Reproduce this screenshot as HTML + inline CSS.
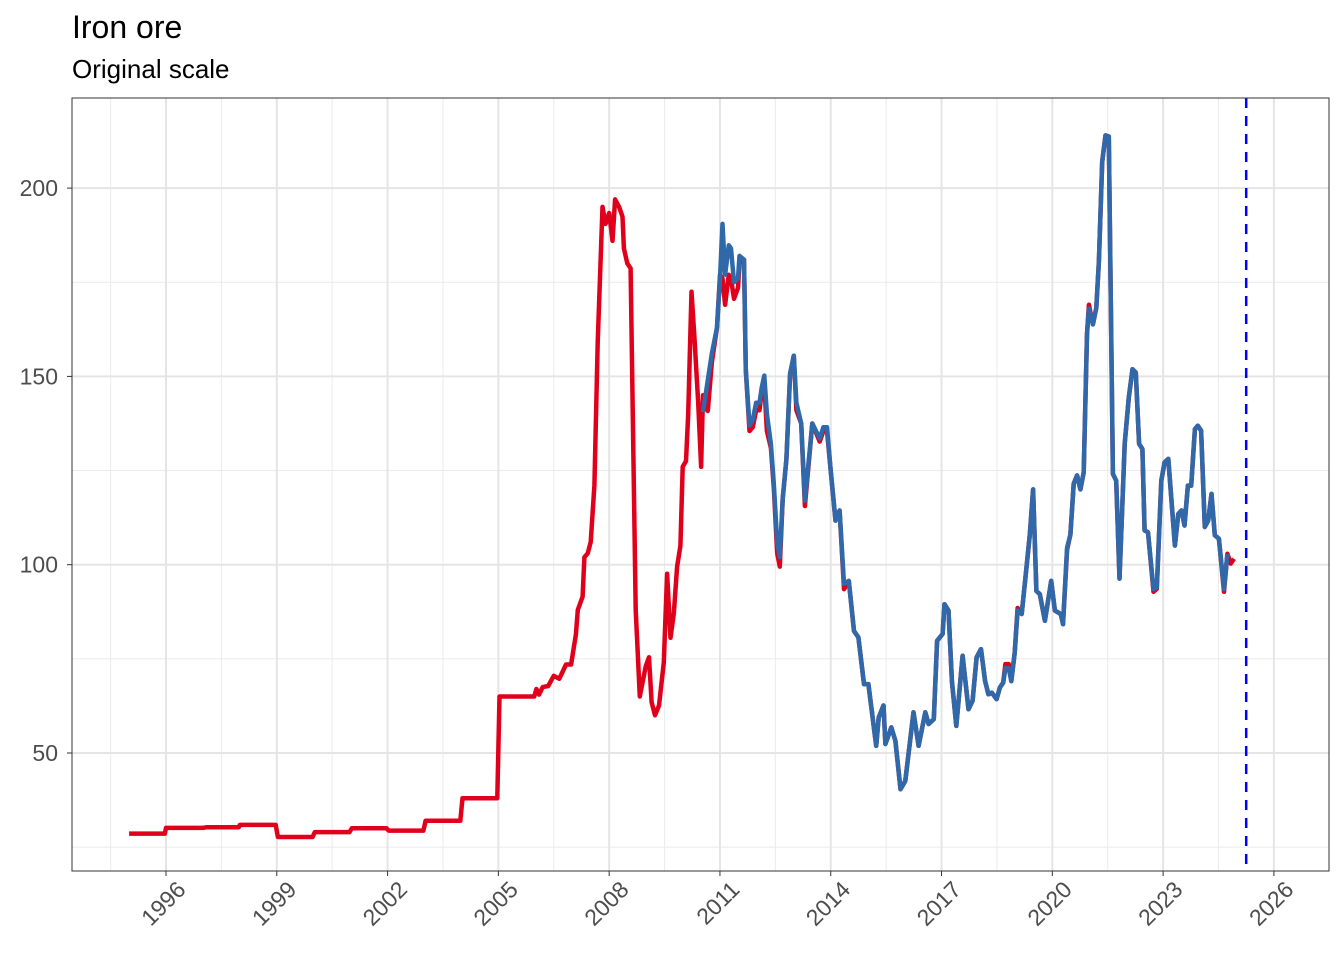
<!DOCTYPE html>
<html><head><meta charset="utf-8"><style>
body{margin:0;background:#fff;font-family:"Liberation Sans",Arial,sans-serif}
</style></head><body>
<svg id="chart" width="1344" height="960" xmlns="http://www.w3.org/2000/svg">
<rect width="1344" height="960" fill="#fff"/>
<text x="72" y="38" font-size="32" fill="#000">Iron ore</text>
<text x="72" y="78" font-size="26" fill="#000">Original scale</text>
<g id="grid"></g><g id="series"></g><g id="axes"></g>
</svg>
<script>
const redYears=[1995.0,1995.97,1996.0,1997.0,1997.1,1997.97,1998.0,1998.97,1999.03,1999.97,2000.03,2000.97,2001.03,2001.97,2002.03,2002.97,2003.03,2003.97,2004.03,2004.97,2005.03,2005.97,2006.03,2006.1,2006.2,2006.35,2006.5,2006.65,2006.83,2006.97,2007.1,2007.15,2007.28,2007.33,2007.42,2007.5,2007.6,2007.69,2007.82,2007.9,2008.0,2008.09,2008.16,2008.27,2008.36,2008.4,2008.49,2008.58,2008.72,2008.83,2008.99,2009.08,2009.15,2009.24,2009.35,2009.48,2009.57,2009.66,2009.75,2009.84,2009.93,2009.99,2010.08,2010.14,2010.23,2010.31,2010.41,2010.49,2010.54,2010.67,2010.78,2010.92,2011.0,2011.07,2011.14,2011.24,2011.3,2011.38,2011.49,2011.53,2011.65,2011.7,2011.8,2011.89,2011.98,2012.07,2012.13,2012.2,2012.27,2012.38,2012.46,2012.55,2012.62,2012.7,2012.8,2012.9,2013.0,2013.07,2013.2,2013.3,2013.5,2013.7,2013.8,2013.9,2014.0,2014.13,2014.24,2014.36,2014.49,2014.63,2014.75,2014.9,2015.02,2015.23,2015.3,2015.43,2015.48,2015.64,2015.75,2015.89,2016.02,2016.24,2016.38,2016.56,2016.65,2016.79,2016.88,2017.03,2017.08,2017.19,2017.28,2017.4,2017.57,2017.73,2017.84,2017.95,2018.07,2018.18,2018.27,2018.36,2018.49,2018.58,2018.67,2018.73,2018.82,2018.89,2018.98,2019.06,2019.17,2019.3,2019.39,2019.48,2019.57,2019.66,2019.8,2019.97,2020.07,2020.23,2020.29,2020.4,2020.49,2020.58,2020.67,2020.76,2020.85,2020.94,2020.99,2021.1,2021.19,2021.26,2021.35,2021.44,2021.53,2021.64,2021.73,2021.82,2021.96,2022.07,2022.17,2022.26,2022.35,2022.44,2022.5,2022.59,2022.74,2022.83,2022.95,2023.04,2023.14,2023.32,2023.41,2023.5,2023.58,2023.67,2023.76,2023.86,2023.94,2024.03,2024.13,2024.22,2024.31,2024.4,2024.51,2024.65,2024.74,2024.83,2024.92];
const redValues=[28.6,28.6,30.1,30.1,30.3,30.3,30.9,30.9,27.7,27.7,29,29,30,30,29.4,29.4,32,32,38,38,65,65,67,65.5,67.5,67.8,70.5,69.7,73.5,73.5,81.5,88,91.5,102,103,106,121,159,195,190.5,193.4,186,197,195,192.4,184,180,178.7,88,65,73,75.4,63.5,60,62.6,74,97.6,80.6,87,99.5,105,126,127.5,140,172.5,160,143,126,145,140.8,153.6,163,177,176,169,177,176,170.6,173.5,180,181,151.7,135.5,136.5,141,141,146,148,135.5,131,120,103,99.5,117.5,128,150.7,155.5,141,137.5,115.6,137.5,132.7,135.5,135.5,125,111.7,114.4,93.5,95.7,82.4,80.7,68.3,68.3,51.9,59.4,62.6,52.4,56.8,53.2,40.4,42.6,60.8,51.9,60.8,57.7,59,79.8,81.6,89.5,87.8,69.1,57.2,75.8,61.6,63.9,75.4,77.6,69.1,65.6,66,64.3,67.4,68.7,73.6,73.6,69.1,76.6,88.5,86.9,99.3,108,120,93,92.2,85.1,95.7,87.8,86.9,84.2,104,108,121.5,123.7,120,124.5,161.2,169,163.8,168.2,180.6,207,214,213.7,124.1,122.3,96.3,132.1,144.4,151.9,151,132.1,130.7,109.1,108.6,92.8,93.6,122.3,127.2,128.1,105.1,113.5,114.4,110.4,121,121,136,136.9,135.6,110,111.7,118.8,107.8,106.9,92.8,102.9,100.3,101.6];
const blueYears=[2010.54,2010.67,2010.78,2010.92,2011.0,2011.07,2011.14,2011.24,2011.3,2011.38,2011.49,2011.53,2011.65,2011.7,2011.8,2011.89,2011.98,2012.07,2012.13,2012.2,2012.27,2012.38,2012.46,2012.55,2012.62,2012.7,2012.8,2012.9,2013.0,2013.07,2013.2,2013.3,2013.5,2013.7,2013.8,2013.9,2014.0,2014.13,2014.24,2014.36,2014.49,2014.63,2014.75,2014.9,2015.02,2015.23,2015.3,2015.43,2015.48,2015.64,2015.75,2015.89,2016.02,2016.24,2016.38,2016.56,2016.65,2016.79,2016.88,2017.03,2017.08,2017.19,2017.28,2017.4,2017.57,2017.73,2017.84,2017.95,2018.07,2018.18,2018.27,2018.36,2018.49,2018.58,2018.67,2018.73,2018.82,2018.89,2018.98,2019.06,2019.17,2019.3,2019.39,2019.48,2019.57,2019.66,2019.8,2019.97,2020.07,2020.23,2020.29,2020.4,2020.49,2020.58,2020.67,2020.76,2020.85,2020.94,2020.99,2021.1,2021.19,2021.26,2021.35,2021.44,2021.53,2021.64,2021.73,2021.82,2021.96,2022.07,2022.17,2022.26,2022.35,2022.44,2022.5,2022.59,2022.74,2022.83,2022.95,2023.04,2023.14,2023.32,2023.41,2023.5,2023.58,2023.67,2023.76,2023.86,2023.94,2024.03,2024.13,2024.22,2024.31,2024.4,2024.51,2024.65,2024.74];
const blueValues=[140.5,149,156,163,176,190.5,177,184.8,184,175,176,182,181,151.7,137,138.5,143,143,147,150.2,140,132,121,106,102,117.5,128,150.7,155.5,143,137.5,117,137.5,133.5,136.5,136.5,125,111.7,114.4,94.9,95.7,82.4,80.7,68.3,68.3,51.9,59.4,62.6,52.4,56.8,53.2,40.4,42.6,60.8,51.9,60.8,57.7,59,79.8,81.6,89.5,87.8,69.1,57.2,75.8,61.6,63.9,75.4,77.6,69.1,65.6,66,64.3,67.4,68.7,72.5,72.5,69.1,76.6,87.8,86.9,99.3,108,120,93,92.2,85.1,95.7,87.8,86.9,84.2,104.6,108,121.5,123.7,120,124.5,161.2,168,163.8,168.2,180.6,207,214,213.7,124.1,122.3,96.3,132.1,144.4,151.9,151,132.1,130.7,109.1,108.6,93.5,94,122.3,127.2,128.1,105.1,113.5,114.4,110.4,121,121,136,136.9,135.6,110,111.7,118.8,107.8,106.9,93.5,102.9];
const yTicks=[50,100,150,200];
const yMinor=[25,75,125,175];
const xTicks=[1996,1999,2002,2005,2008,2011,2014,2017,2020,2023,2026];
const forecastStart=2025.25;

const L=72,R=1329,T=98,B=871;
const X=y=>166+(y-1996)*36.93;
const Y=v=>753-(v-50)*3.766;
const NS="http://www.w3.org/2000/svg";
function mk(tag,attrs,parent){const e=document.createElementNS(NS,tag);for(const k in attrs)e.setAttribute(k,attrs[k]);parent.appendChild(e);return e;}
const grid=document.getElementById('grid'),series=document.getElementById('series'),axes=document.getElementById('axes');
mk('rect',{x:L,y:T,width:R-L,height:B-T,fill:'#fff'},grid);
yMinor.forEach(v=>{const l=mk('line',{x1:L,x2:R,y1:Y(v),y2:Y(v),stroke:'#ebebeb','stroke-width':1},grid);

});
xTicks.forEach(t=>{const l=mk('line',{y1:T,y2:B,x1:X(t-1.5),x2:X(t-1.5),stroke:'#ebebeb','stroke-width':1},grid);

});
yTicks.forEach(v=>{const l=mk('line',{x1:L,x2:R,y1:Y(v),y2:Y(v),stroke:'#e5e5e5','stroke-width':2},grid);


const t=mk('text',{x:L-14,y:Y(v)+8,'text-anchor':'end','font-size':23,fill:'#4d4d4d'},axes);t.textContent=v;


mk('line',{x1:L-5,x2:L,y1:Y(v),y2:Y(v),stroke:'#333','stroke-width':1},axes);});
xTicks.forEach(tk=>{const x=X(tk);const l=mk('line',{y1:T,y2:B,x1:x,x2:x,stroke:'#e5e5e5','stroke-width':2},grid);


mk('line',{x1:x,x2:x,y1:B,y2:B+5,stroke:'#333','stroke-width':1},axes);
const ax=x+21, ay=B+20;
const t=mk('text',{x:ax,y:ay,'text-anchor':'end','font-size':23,fill:'#4d4d4d',transform:`rotate(-45 ${ax} ${ay})`},axes);t.textContent=tk;

});
function path(xs,vs){return xs.map((y,i)=>(i?'L':'M')+X(y).toFixed(1)+' '+Y(vs[i]).toFixed(1)).join(' ');}
const red=mk('path',{d:path(redYears,redValues),fill:'none',stroke:'#e0001b','stroke-width':4.5,'stroke-linejoin':'round'},series);


const blue=mk('path',{d:path(blueYears,blueValues),fill:'none',stroke:'#2f69aa','stroke-width':4.5,'stroke-linejoin':'round'},series);


const fx=X(forecastStart);
const dl=mk('line',{x1:fx,x2:fx,y1:T,y2:B,stroke:'#0000ff','stroke-width':2.5,'stroke-dasharray':'10 8'},series);


const border=mk('rect',{x:L,y:T,width:R-L,height:B-T,fill:'none',stroke:'#333','stroke-width':1},axes);


</script>
</body></html>
